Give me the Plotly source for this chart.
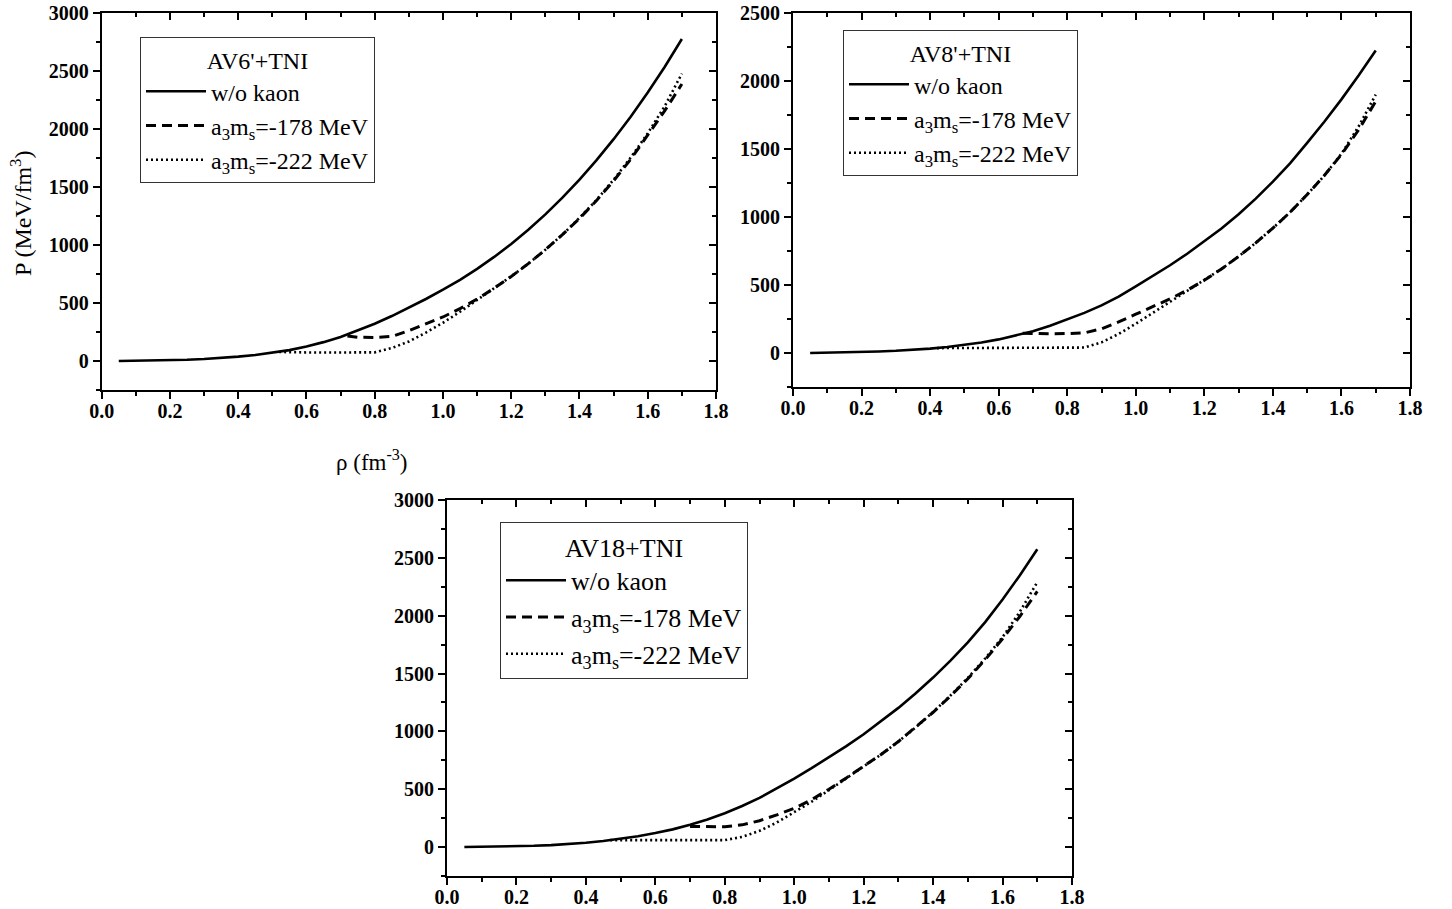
import plotly.graph_objects as go

# ---------------- data ----------------
rho = [0.05, 0.10, 0.15, 0.20, 0.25, 0.30, 0.35, 0.40, 0.45, 0.50, 0.55, 0.60,
       0.65, 0.70, 0.75, 0.80, 0.85, 0.90, 0.95, 1.00, 1.05, 1.10, 1.15, 1.20,
       1.25, 1.30, 1.35, 1.40, 1.45, 1.50, 1.55, 1.60, 1.65, 1.70]

rho_hi = [0.90, 0.95, 1.00, 1.05, 1.10, 1.15, 1.20, 1.25, 1.30, 1.35, 1.40,
          1.45, 1.50, 1.55, 1.60, 1.65, 1.70]

# AV6'+TNI
av6_nokaon = [0.5, 2, 4, 7, 11, 17, 26, 38, 52, 70, 94, 125, 163, 208, 262, 322, 388,
              460, 535, 615, 701, 795, 898, 1010, 1132, 1265, 1409, 1565, 1733,
              1914, 2108, 2316, 2539, 2778]
av6_178_rho = [0.72, 0.75, 0.80, 0.85] + rho_hi
av6_178 = [215, 205, 203, 212, 262, 318, 380, 452, 535, 628, 730, 840, 960, 1090,
           1230, 1385, 1555, 1740, 1945, 2160, 2390]
av6_222_rho = [0.52, 0.55, 0.60, 0.65, 0.70, 0.75, 0.80, 0.85] + rho_hi
av6_222 = [78, 75, 74, 73, 73, 73, 75, 112, 168, 245, 330, 425, 525, 625, 730, 840,
           960, 1090, 1235, 1390, 1565, 1755, 1965, 2200, 2480]

# AV8'+TNI
av8_nokaon = [0.5, 2, 4, 7, 11, 16, 23, 32, 44, 58, 77, 100, 128, 160, 200, 245, 295,
              350, 415, 490, 565, 645, 730, 820, 915, 1020, 1135, 1260, 1395, 1545,
              1700, 1865, 2040, 2225]
av8_178_rho = [0.67, 0.70, 0.75, 0.80, 0.85] + rho_hi
av8_178 = [145, 143, 142, 143, 148, 178, 228, 285, 340, 398, 462, 535, 618, 710, 810,
           918, 1035, 1165, 1305, 1460, 1640, 1850]
av8_222_rho = [0.42, 0.45, 0.50, 0.60, 0.70, 0.80, 0.85] + rho_hi
av8_222 = [36, 36, 35, 35, 35, 36, 40, 78, 140, 215, 295, 372, 452, 532, 618, 710,
           810, 918, 1035, 1165, 1305, 1465, 1665, 1900]

# AV18+TNI
av18_nokaon = [0.5, 2, 4, 7, 11, 17, 25, 37, 52, 71, 94, 121, 153, 192, 239, 293, 355,
               425, 505, 592, 682, 775, 872, 975, 1085, 1203, 1330, 1465, 1612, 1770,
               1945, 2140, 2350, 2575]
av18_178_rho = [0.70, 0.75, 0.80, 0.85] + rho_hi
av18_178 = [178, 175, 176, 192, 228, 278, 335, 410, 500, 598, 698, 800, 912, 1035,
            1165, 1305, 1455, 1620, 1800, 1995, 2210]
av18_222_rho = [0.47, 0.50, 0.55, 0.60, 0.65, 0.70, 0.75, 0.80, 0.85] + rho_hi
av18_222 = [60, 60, 59, 59, 59, 59, 59, 60, 88, 140, 212, 300, 392, 492, 596, 698, 800,
            912, 1035, 1168, 1310, 1462, 1630, 1815, 2035, 2290]

panel_titles = ["AV6'+TNI", "AV8'+TNI", "AV18+TNI"]
series_names = ["w/o kaon", "a<sub>3</sub>m<sub>s</sub>=-178 MeV",
                "a<sub>3</sub>m<sub>s</sub>=-222 MeV"]

# ---------------- figure ----------------
W, H = 1452, 909
FONT = "Liberation Serif"


def px(x):
    return x / W


def py(y):
    return 1 - y / H


panels = [
    dict(sets=[(rho, av6_nokaon), (av6_178_rho, av6_178), (av6_222_rho, av6_222)],
         box=(101.7, 716, 13.3, 390), yr=[-250, 3000], leg=(140, 37), fs=24),
    dict(sets=[(rho, av8_nokaon), (av8_178_rho, av8_178), (av8_222_rho, av8_222)],
         box=(793, 1410, 13, 387), yr=[-250, 2500], leg=(843, 30), fs=24),
    dict(sets=[(rho, av18_nokaon), (av18_178_rho, av18_178), (av18_222_rho, av18_222)],
         box=(447, 1072, 500, 876), yr=[-250, 3000], leg=(500, 522), fs=26),
]

styles = [dict(width=2.6, dash="solid"),
          dict(width=3, dash="10px,6px"),
          dict(width=2.6, dash="2px,3px")]

fig = go.Figure()
layout = dict(width=W, height=H, margin=dict(l=0, r=0, t=0, b=0, autoexpand=False),
              plot_bgcolor="white", paper_bgcolor="white", showlegend=True,
              font=dict(family=FONT, color="black"))

tickfont = dict(family=FONT, size=20, color="black", weight="bold")

for i, p in enumerate(panels):
    n = i + 1
    xa = "x" if n == 1 else f"x{n}"
    ya = "y" if n == 1 else f"y{n}"
    ov = n + 3
    legname = "legend" if n == 1 else f"legend{n}"
    x0, x1, y0, y1 = p["box"]
    xdom = [px(x0), px(x1)]
    ydom = [py(y1), py(y0)]

    for k, (xs, ys) in enumerate(p["sets"]):
        fig.add_trace(go.Scatter(
            x=xs, y=ys, mode="lines", name=series_names[k],
            line=dict(color="black", **styles[k]),
            xaxis=xa, yaxis=ya, legend=legname, legendgroup=f"g{n}{k}",
            hoverinfo="skip"))
    # dummy trace for top/right overlay axes
    fig.add_trace(go.Scatter(x=[None], y=[None], xaxis=f"x{ov}", yaxis=f"y{ov}",
                             showlegend=False, hoverinfo="skip"))

    common_x = dict(range=[0, 1.8], dtick=0.2, tick0=0, showgrid=False, zeroline=False,
                    showline=True, linecolor="black", linewidth=2, automargin=False,
                    tickcolor="black", tickwidth=2, ticklen=7,
                    minor=dict(dtick=0.1, ticks="", ticklen=4, tickwidth=2,
                               tickcolor="black", showgrid=False))
    common_y = dict(range=p["yr"], dtick=500, tick0=0, showgrid=False, zeroline=False,
                    showline=True, linecolor="black", linewidth=2, automargin=False,
                    tickcolor="black", tickwidth=2, ticklen=7,
                    minor=dict(dtick=250, ticks="", ticklen=4, tickwidth=2,
                               tickcolor="black", showgrid=False))

    bx = dict(common_x, domain=xdom, anchor=ya, ticks="outside",
              tickformat=".1f", tickfont=tickfont, ticklabeloverflow="allow",
              ticklabelstandoff=-5)
    bx["minor"] = dict(common_x["minor"], ticks="outside")
    by = dict(common_y, domain=ydom, anchor=xa, ticks="outside",
              tickfont=tickfont, ticklabeloverflow="allow")
    by["minor"] = dict(common_y["minor"], ticks="outside")
    tx = dict(common_x, overlaying=xa, anchor=f"y{ov}", side="top", ticks="inside",
              showticklabels=False)
    tx["minor"] = dict(common_x["minor"], ticks="inside")
    ry = dict(common_y, overlaying=ya, anchor=f"x{ov}", side="right", ticks="inside",
              showticklabels=False)
    ry["minor"] = dict(common_y["minor"], ticks="inside")

    layout["xaxis" if n == 1 else f"xaxis{n}"] = bx
    layout["yaxis" if n == 1 else f"yaxis{n}"] = by
    layout[f"xaxis{ov}"] = tx
    layout[f"yaxis{ov}"] = ry

    lx, ly = p["leg"]
    layout[legname] = dict(
        x=px(lx), y=py(ly), xanchor="left", yanchor="top",
        bgcolor="white", bordercolor="#333333", borderwidth=1,
        font=dict(family=FONT, size=p["fs"], color="black"),
        title=dict(text=panel_titles[i], side="top center",
                   font=dict(family=FONT, size=p["fs"], color="black")),
        tracegroupgap=0, itemwidth=60)

layout["annotations"] = [
    dict(text="P (MeV/fm<sup>3</sup>)", x=px(21), y=py(213), xref="paper",
         yref="paper", xanchor="center", yanchor="middle", showarrow=False,
         textangle=-90, font=dict(family=FONT, size=24, color="black")),
    dict(text="ρ (fm<sup>-3</sup>)", x=px(372), y=py(460), xref="paper",
         yref="paper", xanchor="center", yanchor="middle", showarrow=False,
         font=dict(family=FONT, size=23, color="black")),
]

fig.update_layout(**layout)
fig.write_html("out.html",
               config={"displayModeBar": False},
               post_script="document.body.style.margin='0';"
                           "document.body.style.overflow='hidden';")
